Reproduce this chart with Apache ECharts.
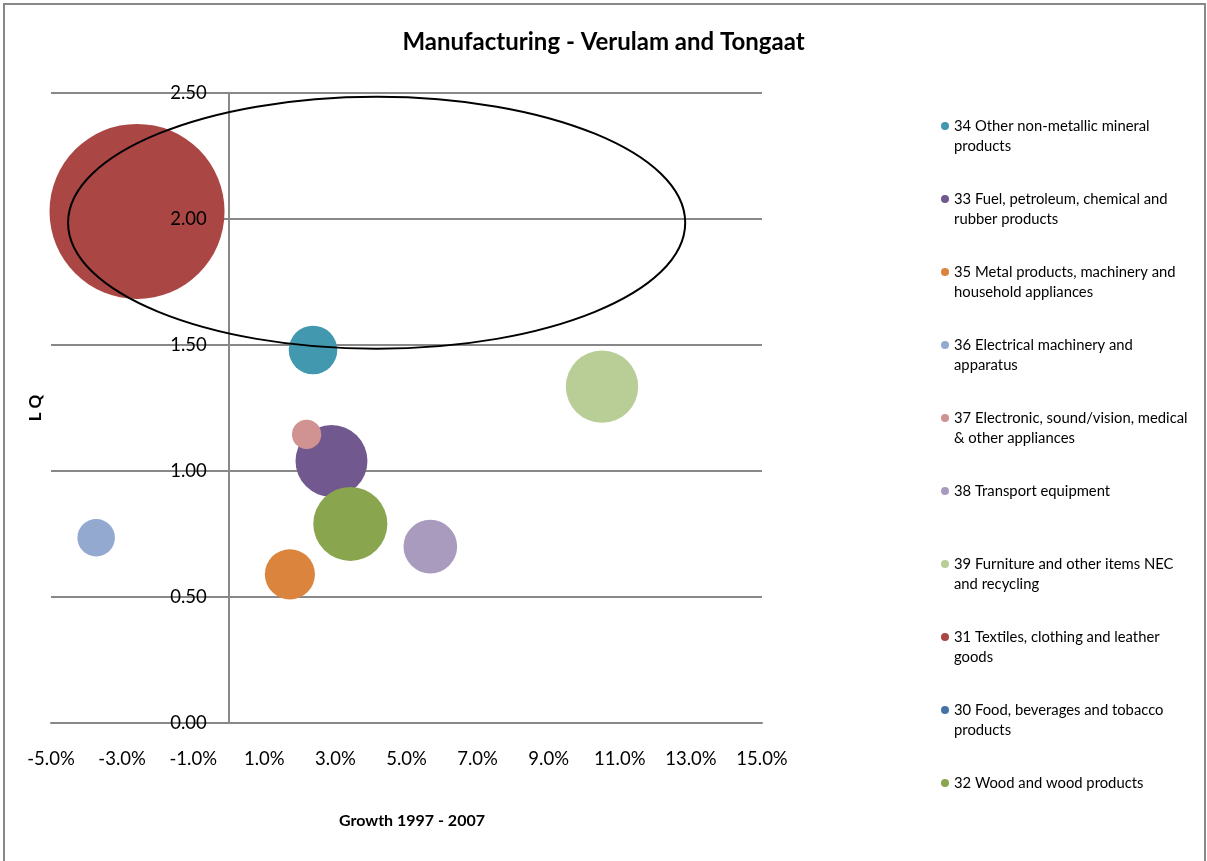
<!DOCTYPE html>
<html>
<head>
<meta charset="utf-8">
<script src="https://cdn.jsdelivr.net/npm/echarts@6/dist/echarts.min.js"></script>
<style>
html,body{margin:0;padding:0;background:#fff;}
#chart{width:1207px;height:861px;}
</style>
</head>
<body>
<div id="chart"></div>
<script>
// ---- data ----
const legendLabels = [
  '34 Other non-metallic mineral\nproducts',
  '33 Fuel, petroleum, chemical and\nrubber products',
  '35 Metal products, machinery and\nhousehold appliances',
  '36 Electrical machinery and\napparatus',
  '37 Electronic, sound/vision, medical\n& other appliances',
  '38 Transport equipment',
  '39 Furniture and other items NEC\nand recycling',
  '31 Textiles, clothing and leather\ngoods',
  '30 Food, beverages and tobacco\nproducts',
  '32 Wood and wood products'
];
const growth = [2.37, 2.89, 1.72, -3.73, 2.19, 5.67, 10.50, -2.58, null, 3.42];   // % growth 1997-2007
const lq = [1.48, 1.04, 0.59, 0.735, 1.145, 0.70, 1.335, 2.03, null, 0.79];        // location quotient
const bubbleSize = [7.7, 16.9, 8.2, 4.6, 2.8, 9.4, 17.1, 100, null, 17.9];         // relative size
const colors = ['#4198AF', '#71588F', '#DB843D', '#93A9CF', '#D19392', '#A99BBD', '#B9CD96', '#AA4643', '#4572A7', '#89A54E'];
const xTicks = [-5, -3, -1, 1, 3, 5, 7, 9, 11, 13, 15];
const yTicks = [0, 0.5, 1, 1.5, 2, 2.5];
const highlight = [4.16, 1.985, 8.68, 0.50]; // ellipse: centre x, centre y, radius x, radius y (data units)

// ---- chart ----
const FONT = 'Lato';
const GRID_LEFT = 51;
const seriesNames = legendLabels.map(s => s.replace('\n', ' '));
const wrapped = {};
seriesNames.forEach((n, i) => { wrapped[n] = legendLabels[i]; });
const maxDiameter = 175;

const series = seriesNames.map((name, i) => ({
  type: 'scatter',
  name: name,
  data: growth[i] == null ? [] : [[growth[i], lq[i], bubbleSize[i]]],
  symbolSize: d => maxDiameter * Math.sqrt(d[2] / 100),
  itemStyle: { color: colors[i], opacity: 1 },
  emphasis: { disabled: true },
  z: 2
}));
series.push({
  type: 'custom',
  name: 'highlight',
  coordinateSystem: 'cartesian2d',
  data: [highlight],
  encode: { x: 0, y: 1 },
  clip: false,
  silent: true,
  z: 5,
  renderItem: (params, api) => {
    const c = api.coord([api.value(0), api.value(1)]);
    const e = api.coord([api.value(0) + api.value(2), api.value(1) + api.value(3)]);
    return {
      type: 'ellipse',
      shape: { cx: c[0], cy: c[1], rx: Math.abs(e[0] - c[0]), ry: Math.abs(c[1] - e[1]) },
      style: { fill: 'none', stroke: '#000', lineWidth: 2 }
    };
  }
});

const chart = echarts.init(document.getElementById('chart'), null, { renderer: 'canvas' });
chart.setOption({
  animation: false,
  backgroundColor: '#fff',
  textStyle: { fontFamily: FONT },
  title: {
    text: 'Manufacturing - Verulam and Tongaat',
    left: 'center',
    top: 25,
    textStyle: { fontFamily: FONT, fontSize: 24, fontWeight: 'bold', color: '#000' }
  },
  graphic: [{
    type: 'rect',
    shape: { x: 4, y: 4, width: 1201, height: 900 },
    style: { fill: 'none', stroke: '#888', lineWidth: 2 },
    silent: true, z: 100
  }],
  legend: {
    orient: 'vertical',
    left: 941,
    top: 96,
    padding: 0,
    itemGap: 13,
    itemWidth: 8,
    itemHeight: 8,
    icon: 'circle',
    selectedMode: false,
    data: seriesNames,
    formatter: n => {
      const w = wrapped[n];
      return '\n' + w + (w.indexOf('\n') < 0 ? '\n' : '');
    },
    textStyle: { fontFamily: FONT, fontSize: 14.8, lineHeight: 20, color: '#000' }
  },
  grid: { left: GRID_LEFT, right: 445, top: 93, bottom: 138, containLabel: false, outerBoundsMode: 'none' },
  xAxis: {
    type: 'value',
    min: -5, max: 15,
    name: 'Growth 1997 - 2007',
    nameLocation: 'middle',
    nameGap: 90,
    nameTextStyle: { fontFamily: FONT, fontSize: 16, fontWeight: 'bold', color: '#000', padding: [0, 0, 0, 11] },
    axisLine: { show: true, onZero: false, lineStyle: { color: '#888', width: 2 } },
    axisTick: { show: false },
    splitLine: { show: false },
    axisLabel: {
      customValues: xTicks,
      formatter: v => v.toFixed(1) + '%',
      margin: 27,
      fontFamily: FONT, fontSize: 18.5, color: '#000'
    }
  },
  yAxis: [{
    type: 'value',
    min: 0, max: 2.5, interval: 0.5,
    axisLine: { show: true, onZero: true, lineStyle: { color: '#888', width: 2 } },
    axisTick: { show: false },
    axisLabel: { show: false },
    splitLine: { show: true, lineStyle: { color: '#888', width: 2 } },
    z: 0
  }, {
    type: 'value',
    position: 'left',
    min: 0, max: 2.5, interval: 0.5,
    name: 'L Q',
    nameLocation: 'middle',
    nameGap: 185,
    nameTextStyle: { fontFamily: FONT, fontSize: 17, fontWeight: 'bold', color: '#000' },
    axisLine: { show: false, onZero: false },
    axisTick: { show: false },
    splitLine: { show: false },
    axisLabel: {
      customValues: yTicks,
      formatter: v => v.toFixed(2),
      margin: 22,
      fontFamily: FONT, fontSize: 18.5, color: '#000'
    },
    z: 10
  }],
  series: series
});
// place the label axis where x = 0, like the value axis line
const zeroX = chart.convertToPixel({ xAxisIndex: 0 }, 0);
chart.setOption({ yAxis: [{}, { offset: -(zeroX - GRID_LEFT) }] });
</script>
</body>
</html>
